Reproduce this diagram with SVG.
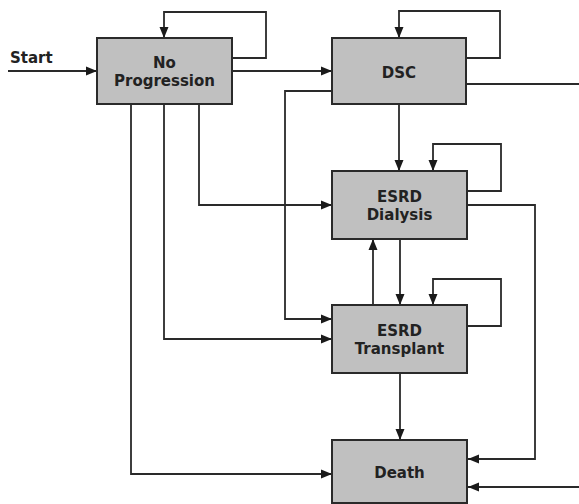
<svg xmlns="http://www.w3.org/2000/svg" width="579" height="504" viewBox="0 0 579 504">
<style>
.box{fill:#c0c0c0;stroke:#2a2a2a;stroke-width:2}
.lbl{font-family:"DejaVu Sans",Verdana,sans-serif;font-weight:bold;font-size:15px;fill:#222;text-anchor:middle}
.c{fill:none;stroke:#2a2a2a;stroke-width:1.8}
.a{marker-end:url(#ah)}
</style>
<defs>
<marker id="ah" markerUnits="userSpaceOnUse" markerWidth="11" markerHeight="11" viewBox="0 0 11 10" refX="11" refY="5" orient="auto">
<path d="M0,0.5 L11,5 L0,9.5 Z" fill="#1a1a1a"/>
</marker>
</defs>
<rect width="579" height="504" fill="#fff"/>
<g id="connectors">
<path class="c a" d="M8,71 H97"/>
<path class="c a" d="M232,58 H266 V12 H164 V38"/>
<path class="c a" d="M232,71 H332"/>
<path class="c a" d="M466,58 H500 V11 H399 V38"/>
<path class="c" d="M466,84 H579"/>
<path class="c a" d="M332,91 H285 V319 H332"/>
<path class="c a" d="M399,104 V171"/>
<path class="c a" d="M199,104 V205 H332"/>
<path class="c a" d="M164,104 V339 H332"/>
<path class="c a" d="M131,104 V474 H332"/>
<path class="c a" d="M467,191 H501 V144 H433 V171"/>
<path class="c a" d="M467,205 H535 V459 H468"/>
<path class="c a" d="M373,305 V239"/>
<path class="c a" d="M400,239 V305"/>
<path class="c a" d="M467,326 H501 V279 H433 V305"/>
<path class="c a" d="M400,373 V440"/>
<path class="c a" d="M579,487 H468"/>
</g>
<text class="lbl" x="10" y="63" style="text-anchor:start">Start</text>
<g id="no-progression">
<rect class="box" x="97" y="38" width="135" height="66"/>
<text class="lbl" x="164.5" y="68">No</text>
<text class="lbl" x="164.5" y="86">Progression</text>
</g>
<g id="dsc">
<rect class="box" x="332" y="38" width="134" height="66"/>
<text class="lbl" x="399" y="78">DSC</text>
</g>
<g id="esrd-dialysis">
<rect class="box" x="332" y="171" width="135" height="68"/>
<text class="lbl" x="399.5" y="202">ESRD</text>
<text class="lbl" x="399.5" y="220">Dialysis</text>
</g>
<g id="esrd-transplant">
<rect class="box" x="332" y="305" width="135" height="68"/>
<text class="lbl" x="399.5" y="336">ESRD</text>
<text class="lbl" x="399.5" y="354">Transplant</text>
</g>
<g id="death">
<rect class="box" x="332" y="440" width="135" height="63"/>
<text class="lbl" x="399.5" y="478">Death</text>
</g>
</svg>
